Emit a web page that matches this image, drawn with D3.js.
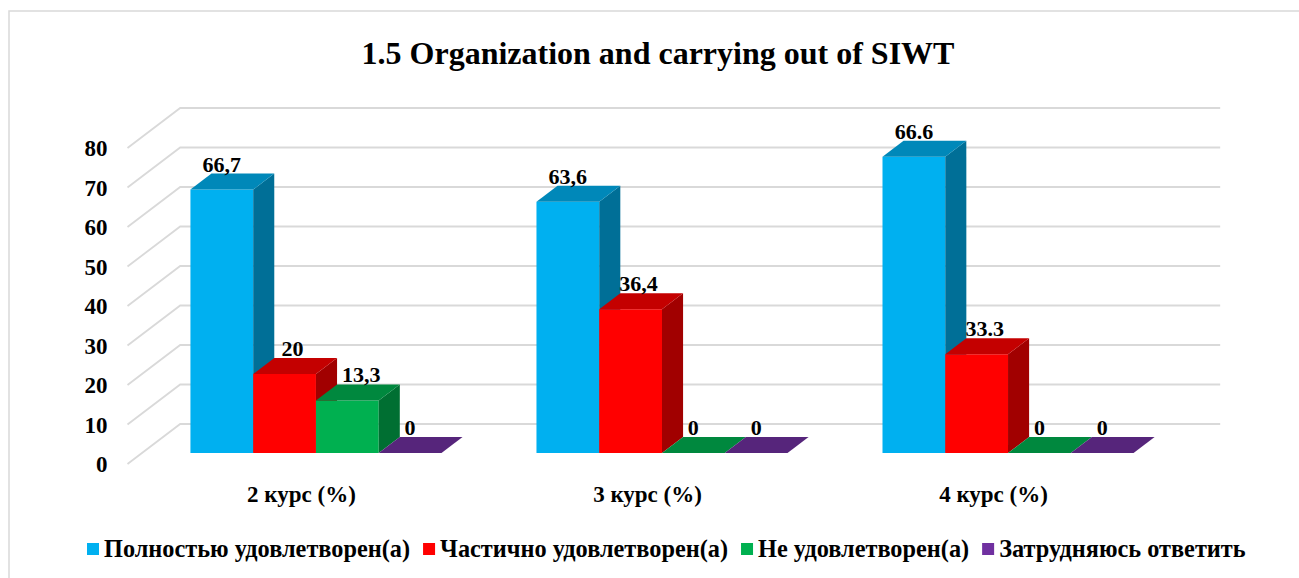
<!DOCTYPE html>
<html>
<head>
<meta charset="utf-8">
<script src="https://cdn.jsdelivr.net/npm/d3@7"></script>
<style>
  body { margin: 0; background: #fff; }
</style>
</head>
<body>
<div id="chart"></div>
<script>
// categories and series
const categories = ['2 курс (%)', '3 курс (%)', '4 курс (%)'];
const seriesNames = ['Полностью удовлетворен(а)', 'Частично удовлетворен(а)', 'Не удовлетворен(а)', 'Затрудняюсь ответить'];
const seriesColors = ['#00B0F0', '#FF0000', '#00B050', '#7030A0'];

// bar heights as drawn (4 курс bars are drawn at ~75 / ~25 in the picture)
const fully = [66.7, 63.6, 75];
const partly = [20, 36.4, 25];
const notSatisfied = [13.3, 0, 0];
const cantSay = [0, 0, 0];

// data labels as printed
const fullyLabels = ['66,7', '63,6', '66.6'];
const partlyLabels = ['20', '36,4', '33.3'];
const notLabels = ['13,3', '0', '0'];
const cantSayLabels = ['0', '0', '0'];

const yTicks = [0, 10, 20, 30, 40, 50, 60, 70, 80];

const seriesValues = [fully, partly, notSatisfied, cantSay];
const seriesLabels = [fullyLabels, partlyLabels, notLabels, cantSayLabels];

const W = 1299, H = 578;
const svg = d3.select('#chart').append('svg')
  .attr('width', W).attr('height', H)
  .attr('font-family', '"Liberation Serif", "Times New Roman", serif')
  .attr('font-weight', 'bold');

// outer chart border
svg.append('rect')
  .attr('x', 9).attr('y', 11).attr('width', 1320).attr('height', 620)
  .attr('fill', 'none').attr('stroke', '#d9d9d9').attr('stroke-width', 1.5);

// title
svg.append('text')
  .attr('x', 658).attr('y', 64)
  .attr('text-anchor', 'middle')
  .attr('font-size', 32)
  .text('1.5 Organization and carrying out of SIWT');

// simple oblique projection for the 3D look
const X0 = 127.5, Y0 = 464;     // front-left corner of the floor
const depth = 40, kx = 1.3175;   // wall depth (px up) and x shift per depth px
const wallW = 1040;
const barD0 = 11, barD1 = 27;    // bar front/back depth

const x = d3.scaleBand().domain(categories).range([0, wallW])
  .paddingInner(0.2745).paddingOuter(0.14);
const xs = d3.scaleBand().domain(d3.range(seriesNames.length)).range([0, x.bandwidth()]);
const y = d3.scaleLinear().domain([0, 80]).range([0, 316]);

function proj(px, v, d) {
  return [X0 + px + d * kx, Y0 - y(v) - d];
}
const pts = arr => arr.map(p => p.join(',')).join(' ');

// gridlines: side wall diagonal + back wall horizontal
const grid = svg.append('g');
yTicks.forEach(t => {
  const a = proj(0, t, 0), b = proj(0, t, depth), c = proj(wallW, t, depth);
  grid.append('polyline')
    .attr('points', pts([a, b, c]))
    .attr('fill', 'none')
    .attr('stroke', '#d9d9d9')
    .attr('stroke-width', 1.8);
});

// y tick labels
svg.append('g').selectAll('text').data(yTicks).enter().append('text')
  .attr('x', 107.5)
  .attr('y', d => proj(0, d, 0)[1])
  .attr('dy', '0.35em')
  .attr('text-anchor', 'end')
  .attr('font-size', 23)
  .text(d => d);

function shade(col, k) {
  const c = d3.rgb(col);
  return d3.rgb(c.r * k, c.g * k, c.b * k).formatHex();
}

// bars, drawn left to right so each front covers the previous side
const bars = svg.append('g');
categories.forEach((cat, ci) => {
  seriesNames.forEach((s, si) => {
    const v = seriesValues[si][ci];
    const x0 = x(cat) + xs(si), x1 = x0 + xs.bandwidth();
    const col = seriesColors[si];
    if (v > 0) {
      bars.append('polygon')
        .attr('points', pts([proj(x0, 0, barD0), proj(x1, 0, barD0), proj(x1, v, barD0), proj(x0, v, barD0)]))
        .attr('fill', col);
      bars.append('polygon')
        .attr('points', pts([proj(x1, 0, barD0), proj(x1, 0, barD1), proj(x1, v, barD1), proj(x1, v, barD0)]))
        .attr('fill', shade(col, 0.63));
    }
    bars.append('polygon')
      .attr('points', pts([proj(x0, v, barD0), proj(x1, v, barD0), proj(x1, v, barD1), proj(x0, v, barD1)]))
      .attr('fill', shade(col, 0.77));
  });
});

// data labels
const labels = svg.append('g');
categories.forEach((cat, ci) => {
  seriesNames.forEach((s, si) => {
    const v = seriesValues[si][ci];
    const xc = x(cat) + xs(si) + xs.bandwidth() / 2;
    // labels on non-zero bars that stand next to a taller bar sit a bit right
    const nudge = (si > 0 && v > 0) ? (si == 1 ? 8 : 14) : 0;
    labels.append('text')
      .attr('x', proj(xc, v, barD0)[0] + nudge)
      .attr('y', proj(xc, v, barD1)[1] - 2)
      .attr('text-anchor', 'middle')
      .attr('font-size', 22)
      .text(seriesLabels[si][ci]);
  });
});

// category labels under the front floor edge
svg.append('g').selectAll('text').data(categories).enter().append('text')
  .attr('x', d => proj(x(d) + x.bandwidth() / 2, 0, 0)[0])
  .attr('y', 502)
  .attr('text-anchor', 'middle')
  .attr('font-size', 23)
  .text(d => d);

// legend
const legend = svg.append('g');
let lx = 87;
seriesNames.forEach((name, i) => {
  legend.append('rect')
    .attr('x', lx).attr('y', 543).attr('width', 12).attr('height', 12)
    .attr('fill', seriesColors[i]);
  const t = legend.append('text')
    .attr('x', lx + 17).attr('y', 557)
    .attr('font-size', 24.3)
    .text(name);
  lx += 17 + t.node().getComputedTextLength() + 13;
});
</script>
</body>
</html>
